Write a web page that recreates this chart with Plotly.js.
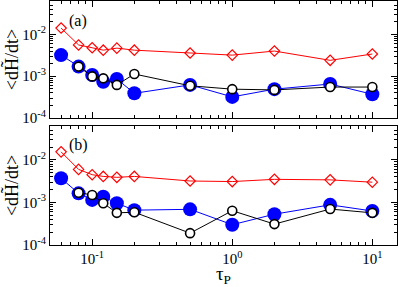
<!DOCTYPE html>
<html><head><meta charset="utf-8">
<script src="https://cdn.plot.ly/plotly-3.0.1.min.js"></script>
<style>html,body{margin:0;padding:0;background:#fff}#plot{width:399px;height:287px}</style>
</head><body><div id="plot"></div>
<script>
const tau = [0.06, 0.08, 0.1, 0.12, 0.15, 0.2, 0.5, 1, 2, 5, 10];
const tauOpen = [0.08, 0.1, 0.12, 0.15, 0.2, 0.5, 1, 2, 5, 10];

const redA   = [0.0142, 0.0056, 0.0048, 0.0042, 0.0047, 0.0042, 0.0036, 0.0032, 0.0040, 0.0024, 0.0034];
const blueA  = [0.0032, 0.0017, 0.00107, 0.00074, 0.00086, 0.00039, 0.00062, 0.00032, 0.00049, 0.00065, 0.00037];
const blackA = [0.0017, 0.00099, 0.00089, 0.00062, 0.00113, 0.00059, 0.00049, 0.00047, 0.00055, 0.00055];

const redB   = [0.0155, 0.0060, 0.0045, 0.0041, 0.0039, 0.0041, 0.0032, 0.0031, 0.0035, 0.0034, 0.0030];
const blueB  = [0.0037, 0.00164, 0.00115, 0.00137, 0.00096, 0.00066, 0.00069, 0.00030, 0.00053, 0.00088, 0.00063];
const blackB = [0.0017, 0.0015, 0.00096, 0.00057, 0.00059, 0.00019, 0.00064, 0.00031, 0.00070, 0.00057];

const xTickVals = [0.1, 1, 10];
const xTickText = ['10<sup>-1</sup>', '10<sup>0</sup>', '10<sup>1</sup>'];
const yTickVals = [1e-4, 1e-3, 1e-2];
const yTickText = ['10<sup>-4</sup>', '10<sup>-3</sup>', '10<sup>-2</sup>'];

function minorVals(lo, hi) {
  const v = [];
  for (let e = lo; e <= hi; e++) for (let k = 2; k <= 9; k++) v.push(k * Math.pow(10, e));
  return v;
}

const F = 'Liberation Serif, Times New Roman, serif';

function series(x, y, xa, ya, kind) {
  const st = {
    red:   {line:{color:'#ff0000', width:1}, marker:{symbol:'diamond-open', size:8, color:'#ff0000', line:{width:1.2, color:'#ff0000'}}},
    blue:  {line:{color:'#0000ff', width:1}, marker:{symbol:'circle', size:14, color:'#0000ff', line:{width:0}}},
    black: {line:{color:'#000000', width:1}, marker:{symbol:'circle', size:9, color:'#ffffff', line:{width:1.6, color:'#000000'}}}
  }[kind];
  return Object.assign({x:x, y:y, xaxis:xa, yaxis:ya, type:'scatter', mode:'lines+markers', showlegend:false, hoverinfo:'skip'}, st);
}

const data = [
  series(tau, blueA, 'x2', 'y2', 'blue'),
  series(tauOpen, blackA, 'x2', 'y2', 'black'),
  series(tau, redA, 'x2', 'y2', 'red'),
  series(tau, blueB, 'x', 'y', 'blue'),
  series(tauOpen, blackB, 'x', 'y', 'black'),
  series(tau, redB, 'x', 'y', 'red')
];

const xr = [Math.log10(0.05), Math.log10(15)];
const yr = [-4, -1.2];

function xAxis(anchor, labels) {
  return {
    type:'log', range:xr, anchor:anchor, domain:[0,1],
    tickmode:'array', tickvals:xTickVals, ticktext:xTickText, showticklabels:labels,
    ticks:'inside', ticklen:6, tickwidth:1, tickcolor:'#000',
    minor:{tickmode:'array', tickvals:minorVals(-2, 1), ticks:'inside', ticklen:3, tickwidth:1, tickcolor:'#000', showgrid:false},
    showline:true, mirror:'ticks', linecolor:'#000', linewidth:1,
    showgrid:false, zeroline:false,
    tickfont:{family:F, size:15, color:'#000'}
  };
}
function yAxis(anchor, domain) {
  return {
    type:'log', range:yr, anchor:anchor, domain:domain,
    tickmode:'array', tickvals:yTickVals, ticktext:yTickText,
    ticks:'inside', ticklen:6, tickwidth:1, tickcolor:'#000',
    minor:{tickmode:'array', tickvals:minorVals(-5, -2), ticks:'inside', ticklen:3, tickwidth:1, tickcolor:'#000', showgrid:false},
    showline:true, mirror:'ticks', linecolor:'#000', linewidth:1,
    showgrid:false, zeroline:false,
    tickfont:{family:F, size:15, color:'#000'},
    title:{text:'<dH\u0303/dt>', font:{family:F, size:18, color:'#000'}, standoff:4}
  };
}

const xa = xAxis('y', true);
xa.title = {text:'\u03c4<sub>P</sub>', font:{family:F, size:19, color:'#000'}, standoff:2};
const xa2 = xAxis('y2', false);

const layout = {
  width:399, height:287,
  margin:{l:50, r:2, t:1, b:42},
  paper_bgcolor:'#fff', plot_bgcolor:'#fff',
  font:{family:F, color:'#000'},
  xaxis:xa, xaxis2:xa2,
  yaxis:yAxis('x', [0, 0.488]),
  yaxis2:yAxis('x2', [0.5205, 1]),
  annotations:[
    {text:'(a)', xref:'paper', yref:'paper', x:0.05, y:0.965, xanchor:'left', yanchor:'top', showarrow:false, font:{family:F, size:16, color:'#000'}},
    {text:'(b)', xref:'paper', yref:'paper', x:0.05, y:0.455, xanchor:'left', yanchor:'top', showarrow:false, font:{family:F, size:16, color:'#000'}}
  ]
};

Plotly.newPlot('plot', data, layout, {staticPlot:true, displayModeBar:false});
</script></body></html>
